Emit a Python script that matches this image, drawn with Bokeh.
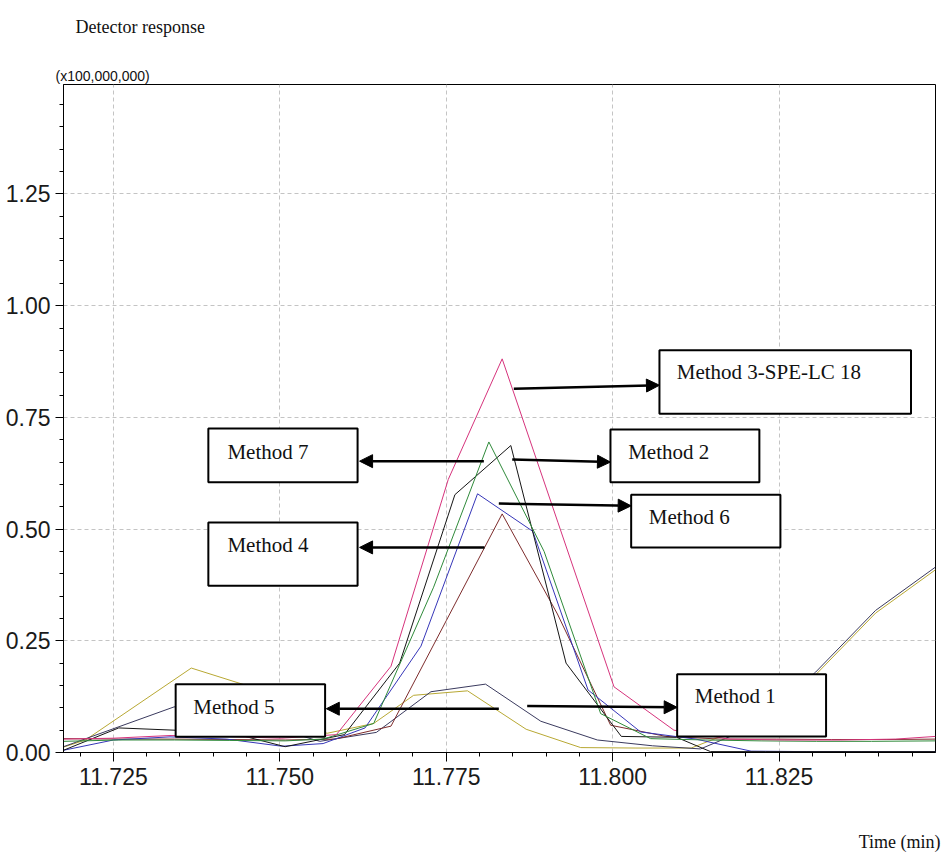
from bokeh.plotting import figure
from bokeh.models import (Range1d, FixedTicker, NumeralTickFormatter, BoxAnnotation,
                          Label, Arrow, NormalHead, Title)
from bokeh.embed import file_html
from bokeh.resources import INLINE

# ---------------- data (time in min, response in units of 1e8) ----------------
t_m3 = [11.7175, 11.7250, 11.7335, 11.7418, 11.7502, 11.7585, 11.7667, 11.7753, 11.7834,
        11.7918, 11.8002, 11.8092, 11.8175, 11.8258, 11.8342, 11.8425, 11.8485]
v_m3 = [0.030, 0.032, 0.038, 0.036, 0.032, 0.040, 0.193, 0.611, 0.881,
        0.514, 0.147, 0.050, 0.030, 0.028, 0.028, 0.030, 0.036]

t_m7 = [11.7175, 11.7258, 11.7342, 11.7425, 11.7508, 11.7565, 11.7641, 11.7731, 11.7814,
        11.7897, 11.7982, 11.8057, 11.8140, 11.8223, 11.8306, 11.8389, 11.8485]
v_m7 = [0.025, 0.028, 0.028, 0.027, 0.026, 0.030, 0.065, 0.370, 0.695,
        0.450, 0.087, 0.031, 0.028, 0.026, 0.025, 0.025, 0.026]

t_m2 = [11.7175, 11.7258, 11.7341, 11.7424, 11.7508, 11.7597, 11.7680, 11.7763, 11.7847,
        11.7930, 11.8013, 11.8096, 11.8147, 11.8230, 11.8313, 11.8396, 11.8485]
v_m2 = [0.005, 0.055, 0.050, 0.045, 0.013, 0.040, 0.200, 0.577, 0.687,
        0.200, 0.036, 0.034, 0.002, 0.002, 0.002, 0.002, 0.002]

t_m6 = [11.7175, 11.7250, 11.7335, 11.7420, 11.7503, 11.7565, 11.7628, 11.7712, 11.7797,
        11.7880, 11.7963, 11.8042, 11.8125, 11.8208, 11.8291, 11.8374, 11.8485]
v_m6 = [0.005, 0.028, 0.035, 0.030, 0.014, 0.020, 0.055, 0.238, 0.579,
        0.495, 0.140, 0.046, 0.030, 0.003, 0.002, 0.002, 0.002]

t_m4 = [11.7175, 11.7258, 11.7342, 11.7425, 11.7508, 11.7583, 11.7667, 11.7750, 11.7834,
        11.7917, 11.7997, 11.8080, 11.8163, 11.8246, 11.8329, 11.8412, 11.8485]
v_m4 = [0.031, 0.030, 0.030, 0.029, 0.028, 0.030, 0.059, 0.295, 0.534,
        0.310, 0.061, 0.036, 0.030, 0.030, 0.029, 0.029, 0.030]

t_m5 = [11.7175, 11.7208, 11.7367, 11.7450, 11.7533, 11.7571, 11.7641, 11.7701, 11.7782,
        11.7870, 11.7952, 11.8035, 11.8118, 11.8200, 11.8305, 11.8395, 11.8485]
v_m5 = [0.012, 0.028, 0.189, 0.150, 0.060, 0.043, 0.065, 0.128, 0.138,
        0.052, 0.011, 0.010, 0.010, 0.058, 0.174, 0.312, 0.409]

t_m1 = [11.7175, 11.7341, 11.7400, 11.7480, 11.7560, 11.7645, 11.7727, 11.7809, 11.7892,
        11.7977, 11.8060, 11.8132, 11.8215, 11.8305, 11.8395, 11.8485]
v_m1 = [0.013, 0.102, 0.110, 0.060, 0.025, 0.045, 0.136, 0.153, 0.070,
        0.028, 0.015, 0.008, 0.060, 0.180, 0.318, 0.415]

series = [
    (t_m5, v_m5, "#b8a833"),
    (t_m1, v_m1, "#3a3a5e"),
    (t_m4, v_m4, "#7d2c2c"),
    (t_m6, v_m6, "#3636b8"),
    (t_m2, v_m2, "#151515"),
    (t_m7, v_m7, "#2f8a3a"),
    (t_m3, v_m3, "#d6337c"),
]

x_major = [11.725, 11.750, 11.775, 11.800, 11.825]
x_minor = [11.720, 11.725, 11.730, 11.735, 11.740, 11.745, 11.750, 11.755, 11.760, 11.765,
           11.770, 11.775, 11.780, 11.785, 11.790, 11.795, 11.800, 11.805, 11.810, 11.815,
           11.820, 11.825, 11.830, 11.835, 11.840, 11.845]
y_major = [0.00, 0.25, 0.50, 0.75, 1.00, 1.25]
y_minor = [0.05, 0.10, 0.15, 0.20, 0.30, 0.35, 0.40, 0.45, 0.55, 0.60, 0.65, 0.70,
           0.80, 0.85, 0.90, 0.95, 1.05, 1.10, 1.15, 1.20, 1.30, 1.35, 1.40, 1.45]

# annotation boxes: (label, left, right, bottom, top, text_x, text_y, arrow x0, y0, x1, y1)
callouts = [
    ("Method 3-SPE-LC 18", 11.80703, 11.84482, 0.758, 0.900, 11.80963, 0.851, 11.78515, 0.814, 11.80703, 0.822),
    ("Method 2",           11.79967, 11.82204, 0.605, 0.723, 11.80233, 0.672, 11.78491, 0.656, 11.79967, 0.650),
    ("Method 6",           11.80278, 11.82520, 0.459, 0.577, 11.80542, 0.527, 11.78290, 0.557, 11.80278, 0.552),
    ("Method 7",           11.73926, 11.76168, 0.605, 0.725, 11.74212, 0.672, 11.78065, 0.652, 11.76198, 0.652),
    ("Method 4",           11.73926, 11.76168, 0.373, 0.515, 11.74212, 0.464, 11.78075, 0.459, 11.76198, 0.459),
    ("Method 5",           11.73435, 11.75680, 0.035, 0.153, 11.73701, 0.102, 11.78290, 0.098, 11.75698, 0.098),
    ("Method 1",           11.80969, 11.83206, 0.036, 0.175, 11.81233, 0.126, 11.78716, 0.104, 11.80969, 0.101),
]

# ---------------- figure ----------------
p = figure(width=944, height=861, output_backend="svg", toolbar_location=None,
           x_range=Range1d(11.7175, 11.8485), y_range=Range1d(0, 1.495),
           min_border_left=63, min_border_right=9, min_border_top=84, min_border_bottom=109)
p.background_fill_color = "white"
p.border_fill_color = "white"
p.outline_line_color = "black"
p.outline_line_width = 1

for t, v, c in series:
    p.line(t, v, line_color=c, line_width=1)

for ax in (p.xaxis[0], p.yaxis[0]):
    ax.axis_line_color = "black"
    ax.major_tick_line_color = "black"
    ax.minor_tick_line_color = "black"
    ax.major_tick_in = 0
    ax.minor_tick_in = 0
    ax.major_label_text_font = "Liberation Sans"
    ax.major_label_text_color = "#1a1a1a"

p.xaxis.major_label_text_font_size = "23px"
p.yaxis.major_label_text_font_size = "23px"
p.xaxis.ticker = FixedTicker(ticks=x_major, minor_ticks=x_minor)
p.yaxis.ticker = FixedTicker(ticks=y_major, minor_ticks=y_minor)
p.xaxis.formatter = NumeralTickFormatter(format="0.000")
p.yaxis.formatter = NumeralTickFormatter(format="0.00")
p.xaxis.major_tick_out = 9
p.xaxis.minor_tick_out = 4
p.xaxis.major_label_standoff = 6
p.yaxis.major_tick_out = 8
p.yaxis.minor_tick_out = 4
p.yaxis.major_label_standoff = 5

p.xgrid.ticker = FixedTicker(ticks=x_major)
p.ygrid.ticker = FixedTicker(ticks=y_major)
for g in (p.xgrid[0], p.ygrid[0]):
    g.grid_line_color = "#c4c4c4"
    g.grid_line_dash = "4 3"
    g.grid_line_width = 1

for (name, l, r, b, tp, tx, ty, ax0, ay0, ax1, ay1) in callouts:
    p.add_layout(Arrow(x_start=ax0, y_start=ay0, x_end=ax1, y_end=ay1,
                       line_color="black", line_width=2.5,
                       end=NormalHead(size=13, fill_color="black", line_color="black", line_width=1)))
    p.add_layout(BoxAnnotation(left=l, right=r, bottom=b, top=tp, fill_color="white", fill_alpha=1,
                               line_color="black", line_width=2, line_alpha=1))
    p.add_layout(Label(x=tx, y=ty, text=name, text_font="Liberation Serif", text_font_size="21px",
                       text_baseline="middle", text_align="left", text_color="#111111"))

# outer texts as titles (first added above is closest to the frame)
p.add_layout(Title(text="(x100,000,000)", align="left", offset=-8, standoff=1,
                   text_font="Liberation Sans", text_font_size="14px",
                   text_font_style="normal", text_color="#111111"), "above")
p.add_layout(Title(text="Detector response\n", align="left", offset=12, standoff=17,
                   text_font="Liberation Serif", text_font_size="18px",
                   text_font_style="normal", text_color="#111111"), "above")
p.add_layout(Title(text="\n\nTime (min)", align="right", offset=-5, standoff=4,
                   text_font="Liberation Serif", text_font_size="18px",
                   text_font_style="normal", text_color="#111111"), "below")

open("out.html", "w").write(file_html(p, INLINE))
